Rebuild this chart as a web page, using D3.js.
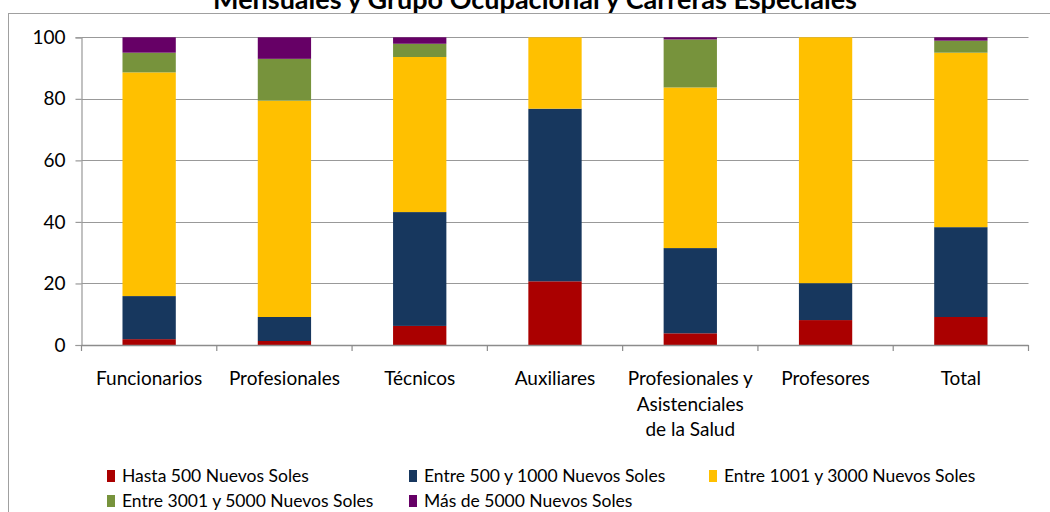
<!DOCTYPE html>
<html>
<head>
<meta charset="utf-8">
<script src="https://cdn.jsdelivr.net/npm/d3@7"></script>
<style>
  html, body { margin: 0; padding: 0; background: #fff; }
  svg { display: block; }
  text { font-family: Lato, "Open Sans", sans-serif; fill: #000; }
</style>
</head>
<body>
<svg id="chart" width="1050" height="512"></svg>
<script>
// ---- Data (percent) ----
const categories = ["Funcionarios", "Profesionales", "Técnicos", "Auxiliares",
  "Profesionales y\nAsistenciales\nde la Salud", "Profesores", "Total"];
const seriesNames = ["Hasta 500 Nuevos Soles", "Entre 500 y 1000  Nuevos  Soles",
  "Entre 1001 y 3000 Nuevos Soles", "Entre 3001 y 5000 Nuevos Soles", "Más de 5000 Nuevos Soles"];
const hasta500   = [1.9, 1.3, 6.2, 20.7, 3.8, 8.1, 9.1];
const entre500   = [14.0, 7.8, 37.0, 56.1, 27.7, 12.0, 29.2];
const entre1001  = [72.7, 70.3, 50.4, 23.2, 52.2, 79.9, 56.7];
const entre3001  = [6.4, 13.6, 4.3, 0, 15.6, 0, 3.9];
const mas5000    = [5.0, 7.0, 2.1, 0, 0.7, 0, 1.1];
const yTicks = [0, 20, 40, 60, 80, 100];
const titleText = "Mensuales y Grupo Ocupacional y Carreras Especiales";

const colors = ["#AA0000", "#17375E", "#FFC000", "#77933C", "#660066"];
const seriesValues = [hasta500, entre500, entre1001, entre3001, mas5000];

const svg = d3.select("#chart");
const plot = { left: 81.5, right: 1028.5, top: 37.3, bottom: 345 };
const gridColor = "#999999";

// Frame
svg.append("rect").attr("x", 8.5).attr("y", 13.5).attr("width", 1100).attr("height", 600)
  .attr("fill", "none").attr("stroke", "#a0a0a0").attr("stroke-width", 1);

// Title (clipped at top of the picture, as in the reference)
svg.append("text").attr("x", 535).attr("y", 8.5).attr("text-anchor", "middle")
  .style("font-weight", "bold").style("font-size", "27px").text(titleText);

const x = d3.scaleBand().domain(categories).range([plot.left, plot.right])
  .paddingInner(0.606).paddingOuter(0.303);
const y = d3.scaleLinear().domain([0, 100]).range([plot.bottom, plot.top]);

// Gridlines
svg.append("g").selectAll("line").data(yTicks.filter(d => d > 0)).join("line")
  .attr("x1", plot.left).attr("x2", plot.right)
  .attr("y1", d => Math.round(y(d)) + 0.5).attr("y2", d => Math.round(y(d)) + 0.5)
  .attr("stroke", gridColor).attr("stroke-width", 1.2);

// Stacked data
const rows = categories.map((c, i) => {
  const o = { cat: c };
  seriesNames.forEach((s, j) => o[s] = seriesValues[j][i]);
  return o;
});
const stack = d3.stack().keys(seriesNames)(rows);

svg.append("g").selectAll("g").data(stack).join("g")
  .attr("fill", (d, i) => colors[i])
  .selectAll("rect").data(d => d).join("rect")
  .attr("x", d => x(d.data.cat))
  .attr("width", x.bandwidth())
  .attr("y", d => y(d[1]))
  .attr("height", d => Math.max(0, y(d[0]) - y(d[1])));

// Y axis
const yAxis = d3.axisLeft(y).tickValues(yTicks).tickSize(6).tickPadding(10).tickFormat(d3.format("d"));
const gy = svg.append("g").attr("transform", `translate(${plot.left},0)`).call(yAxis);
gy.select(".domain").attr("stroke", gridColor).attr("stroke-width", 1.2);
gy.selectAll(".tick line").attr("stroke", gridColor).attr("stroke-width", 1.2);
gy.selectAll(".tick text").style("font-size", "19px").attr("fill", "#000");

// X axis line with boundary ticks
svg.append("line").attr("x1", plot.left).attr("x2", plot.right)
  .attr("y1", plot.bottom + 0.5).attr("y2", plot.bottom + 0.5)
  .attr("stroke", "#8c8c8c").attr("stroke-width", 1.5);
const boundaries = categories.map(c => x(c) - x.step() * x.paddingOuter()).concat([plot.right]);
svg.append("g").selectAll("line").data(boundaries).join("line")
  .attr("x1", d => d).attr("x2", d => d)
  .attr("y1", plot.bottom).attr("y2", plot.bottom + 6)
  .attr("stroke", "#8c8c8c").attr("stroke-width", 1.2);

// Category labels
const labels = svg.append("g").selectAll("text").data(categories).join("text")
  .attr("x", d => x(d) + x.bandwidth() / 2)
  .attr("y", 385)
  .attr("text-anchor", "middle")
  .style("font-size", "19px");
labels.each(function(d) {
  const t = d3.select(this);
  d.split("\n").forEach((line, i) => {
    t.append("tspan").attr("x", x(d) + x.bandwidth() / 2).attr("dy", i === 0 ? 0 : 25.5).text(line);
  });
});

// Legend
const legendPos = [[107, 482], [409, 482], [709, 482], [107, 507], [409, 507]];
const lg = svg.append("g").selectAll("g").data(seriesNames).join("g")
  .attr("transform", (d, i) => `translate(${legendPos[i][0]},${legendPos[i][1]})`);
lg.append("rect").attr("x", 0).attr("y", -12).attr("width", 8).attr("height", 12)
  .attr("fill", (d, i) => colors[i]);
lg.append("text").attr("x", 15).attr("y", 0).style("font-size", "17.5px").text(d => d);
</script>
</body>
</html>
